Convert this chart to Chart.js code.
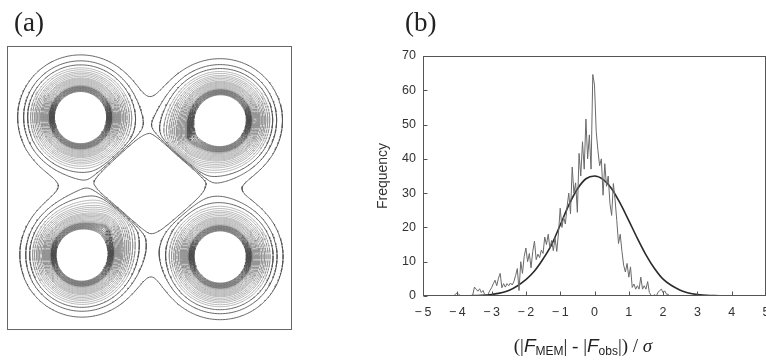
<!DOCTYPE html>
<html><head><meta charset="utf-8">
<script src="https://cdn.jsdelivr.net/npm/chart.js@4.4.0/dist/chart.umd.min.js"></script>
<style>
html,body{margin:0;padding:0;background:#fff;}
#wrap{position:relative;width:766px;height:360px;overflow:hidden;background:#fff;}
#ca{position:absolute;left:0;top:0;}
#cb{position:absolute;left:300px;top:0;}
.lab{position:absolute;font-family:'Liberation Serif',serif;color:#222;line-height:1;}
#xt{position:absolute;left:463px;width:240px;top:336px;text-align:center;font-family:'Liberation Serif',serif;font-size:19px;color:#222;line-height:1;white-space:nowrap;}
#xt sub{font-family:'Liberation Sans',sans-serif;font-size:12px;vertical-align:-3px;}
#xt i.f{font-family:'Liberation Sans',sans-serif;}
</style></head><body>
<div id="wrap">
<canvas id="ca" width="300" height="360"></canvas>
<canvas id="cb" width="466" height="360"></canvas>
<div class="lab" style="left:14px;top:9px;font-size:27px">(a)</div>
<div class="lab" style="left:405px;top:9px;font-size:27px">(b)</div>
<div id="xt">(|<i class="f">F</i><sub>MEM</sub>| - |<i class="f">F</i><sub>obs</sub>|) / <i>σ</i></div>
</div>
<script>
// ---------- panel (b) data ----------
const histStart = -4.2;
const histStep = 0.05;
const histY = [0,0,0,0.6,0.9,0.4,0,0,0,0,0,0,0,0.3,
 2.6,2,1.4,2.1,1,1.6,0.4,0,0.6,1.6,2.4,3.6,4.6,3,5.2,6.6,
 2.4,3.6,2.6,3.6,3,3.8,3.2,4.2,6,8,1.6,10,6.6,11.5,14,10,12.4,8.2,13,16,
 10.6,12.2,11.2,13.4,12.4,17.2,15,18,14,16.2,13.2,17,13,18.4,25.6,20,23,21,26,30,
 24,37.6,30,33,24.4,41.6,35,45,37,51.6,40,47,37,64.6,61.5,48,42.4,38,40,29.4,
 38.6,32,35,27,23.5,32.8,28,22,15.3,18,13,9,7,9.5,5.5,8.5,2.5,3.5,2,3,
 2,5.5,2,3,2,4.2,1,0.2,0,0.4,0,1,1.6,2,1,1.5,0.5,0.5,0,0];
const gaussX = [-4,-3.5,-3,-2.5,-2,-1.75,-1.5,-1.25,-1,-0.75,-0.5,-0.25,0,0.25,0.5,0.75,1,1.25,1.5,1.75,2,2.5,3,3.5,4];
const gaussY = [0,0.1,0.45,1.6,4.8,7.3,10.8,15,20.7,26.5,31.2,34.2,35,34,31.3,27,22,16.8,12,8,4.9,1.7,0.4,0.1,0];
const xTicks = [-5,-4,-3,-2,-1,0,1,2,3,4,5];
const yTicks = [0,10,20,30,40,50,60,70];

// ---------- panel (a) data ----------
// density peaks (box-normalised coordinates), amplitude and decay length
const atomX = [0.258, 0.750, 0.262, 0.748, 0.645, 0.345];
const atomY = [0.252, 0.262, 0.738, 0.743, 0.330, 0.640];
const atomAmp = [1, 1, 1, 1, 0.04, 0.04];
const atomDecay = [0.042, 0.041, 0.041, 0.042, 0.06, 0.06];
// central low-density region
const sinkX = [0.502], sinkY = [0.482], sinkAmp = [0.2], sinkWidthX = [0.138], sinkWidthY = [0.122];
const contourLevels = [0.00525,0.00865,0.0121,0.0155,0.0183,0.0216,0.0245,0.0278,0.0315,0.0357,0.0388,0.0421,0.0458,0.0498,0.0541,0.0588,0.0639,0.0678,0.0719,0.0755,0.0794,0.0835,0.0877,0.0922,0.097,0.102,0.107,0.113];

// ---------- build contour segments ----------
const N = 181;
const P = 1.3;
function density(u, v) {
  let s = 0;
  for (let k = 0; k < atomX.length; k++) {
    const d = Math.hypot(u - atomX[k], v - atomY[k]);
    s += atomAmp[k] * Math.exp(-d / atomDecay[k]);
  }
  for (let k = 0; k < sinkX.length; k++) {
    const ax = Math.abs(u - sinkX[k]) / sinkWidthX[k], ay = Math.abs(v - sinkY[k]) / sinkWidthY[k];
    const d = Math.pow(Math.pow(ax, P) + Math.pow(ay, P), 1 / P);
    s -= sinkAmp[k] * Math.exp(-Math.pow(d, 4));
  }
  return s;
}
const grid = [];
for (let j = 0; j < N; j++) { const row = []; for (let i = 0; i < N; i++) row.push(density(i/(N-1), j/(N-1))); grid.push(row); }
function segmentsFor(L) {
  const out = [];
  const h = 1/(N-1);
  for (let j = 0; j < N-1; j++) for (let i = 0; i < N-1; i++) {
    const v0 = grid[j][i], v1 = grid[j][i+1], v2 = grid[j+1][i+1], v3 = grid[j+1][i];
    const a0 = v0 > L, a1 = v1 > L, a2 = v2 > L, a3 = v3 > L;
    if (a0 === a1 && a1 === a2 && a2 === a3) continue;
    const x0 = i*h, y0 = j*h;
    const t = a0 !== a1 ? {x: x0 + h*(L-v0)/(v1-v0), y: y0} : null;
    const r = a1 !== a2 ? {x: x0 + h, y: y0 + h*(L-v1)/(v2-v1)} : null;
    const b = a3 !== a2 ? {x: x0 + h*(L-v3)/(v2-v3), y: y0 + h} : null;
    const l = a0 !== a3 ? {x: x0, y: y0 + h*(L-v0)/(v3-v0)} : null;
    const p = [t, r, b, l].filter(Boolean);
    if (p.length === 2) { out.push(p[0], p[1], {x: NaN, y: NaN}); }
    else if (p.length === 4) {
      const c = (v0+v1+v2+v3)/4 > L;
      if ((a0 && a2) === c) { out.push(t, r, {x:NaN,y:NaN}, b, l, {x:NaN,y:NaN}); }
      else { out.push(t, l, {x:NaN,y:NaN}, r, b, {x:NaN,y:NaN}); }
    }
  }
  return out;
}
const contourSets = contourLevels.map((L, k) => ({
  data: segmentsFor(L),
  showLine: true, pointRadius: 0, borderWidth: k < 3 ? 0.9 : 0.6,
  borderColor: k < 3 ? '#555' : (k > 17 ? '#4a4a4a' : '#8a8a8a'),
  spanGaps: false, tension: 0
}));

const framePlugin = {
  id: 'frame',
  afterDraw(chart, args, opts) {
    const {ctx, chartArea: a} = chart;
    ctx.save();
    ctx.strokeStyle = opts.color || '#555';
    ctx.lineWidth = 1;
    const l = Math.round(a.left) + 0.5, t = Math.round(a.top) + 0.5, r = Math.round(a.right) - 0.5, b = Math.round(a.bottom) - 0.5;
    ctx.strokeRect(l, t, r - l, b - t);
    if (opts.ticks) {
      const xs = chart.scales.x, ys = chart.scales.y;
      ctx.beginPath();
      xs.ticks.forEach(tk => { const px = Math.round(xs.getPixelForValue(tk.value)) + 0.5; ctx.moveTo(px, b); ctx.lineTo(px, b - 4); });
      ys.ticks.forEach(tk => { const py = Math.round(ys.getPixelForValue(tk.value)) + 0.5; ctx.moveTo(l, py); ctx.lineTo(l + 4, py); });
      ctx.stroke();
    }
    ctx.restore();
  }
};

new Chart(document.getElementById('ca'), {
  type: 'scatter',
  data: { datasets: contourSets },
  options: {
    responsive: false, animation: false, parsing: true, normalized: true,
    layout: { autoPadding: false, padding: { left: 7, top: 46, right: 8, bottom: 30 } },
    plugins: { legend: { display: false }, tooltip: { enabled: false }, frame: { color: '#666' } },
    scales: {
      x: { type: 'linear', min: 0, max: 1, display: false },
      y: { type: 'linear', min: 0, max: 1, reverse: true, display: false }
    }
  },
  plugins: [framePlugin]
});

const tickFont = { family: "'Liberation Sans', Arial, sans-serif", size: 12.5 };
new Chart(document.getElementById('cb'), {
  type: 'line',
  data: {
    datasets: [
      { data: histY.map((y, i) => ({ x: +(histStart + i*histStep).toFixed(2), y })), borderColor: '#6a6a6a', borderWidth: 1, pointRadius: 0, tension: 0 },
      { data: gaussX.map((x, i) => ({ x, y: gaussY[i] })), borderColor: '#2a2a2a', borderWidth: 1.6, pointRadius: 0, cubicInterpolationMode: 'monotone' }
    ]
  },
  options: {
    responsive: false, animation: false,
    layout: { autoPadding: false, padding: { left: 75, top: 56, right: 0, bottom: 0 } },
    plugins: { legend: { display: false }, tooltip: { enabled: false }, frame: { color: '#555', ticks: true } },
    scales: {
      x: {
        type: 'linear', min: -5, max: 5,
        afterBuildTicks: s => { s.ticks = xTicks.map(v => ({ value: v })); },
        afterFit: s => { s.height = 64; s.paddingLeft = 0; s.paddingRight = 0; },
        grid: { display: false, drawTicks: false }, border: { display: false },
        ticks: { font: tickFont, color: '#333', padding: 9, maxRotation: 0,
          callback: v => v < 0 ? '\u2212\u2009' + (-v) : String(v) }
      },
      y: {
        type: 'linear', min: 0, max: 70,
        afterBuildTicks: s => { s.ticks = yTicks.map(v => ({ value: v })); },
        afterFit: s => { s.width = 48; s.paddingTop = 0; s.paddingBottom = 0; },
        grid: { display: false, drawTicks: false }, border: { display: false },
        title: { display: true, text: 'Frequency', font: { family: "'Liberation Sans', Arial, sans-serif", size: 14 }, color: '#333', padding: 0 },
        ticks: { font: tickFont, color: '#333', padding: 7 }
      }
    }
  },
  plugins: [framePlugin]
});
</script>
</body></html>
